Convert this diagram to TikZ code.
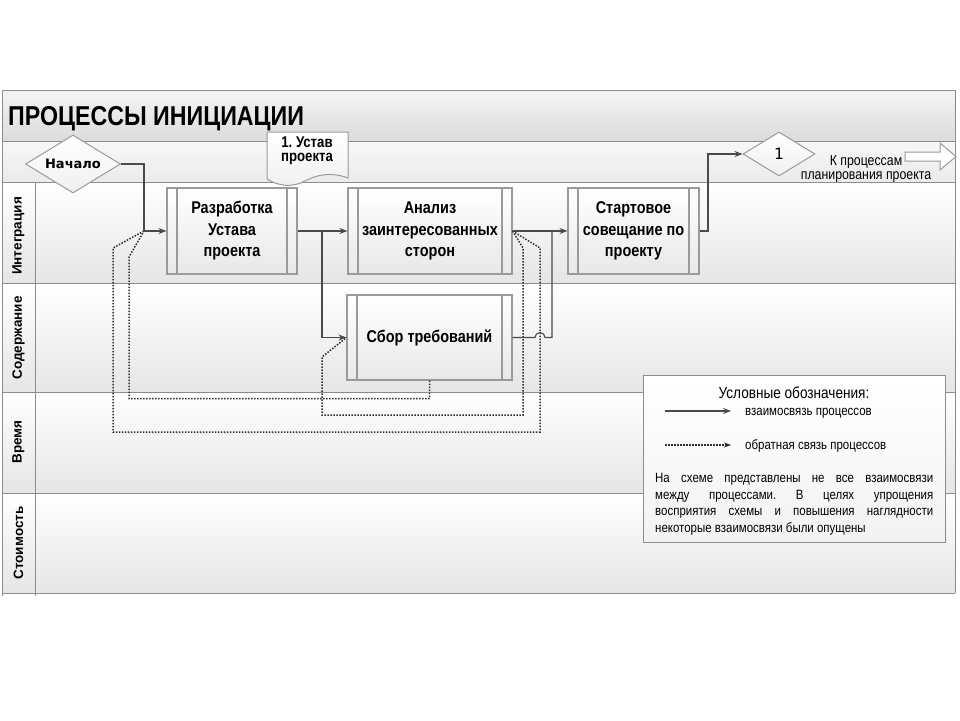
\documentclass[tikz,border=0pt]{standalone}
\usepackage{fontspec}
\setmainfont{Liberation Sans}
\newfontfamily\nar[FakeStretch=0.85]{Liberation Sans}
\newfontfamily\dvs{DejaVu Sans}
\usetikzlibrary{arrows.meta,shapes.geometric,calc}
\definecolor{lineC}{HTML}{4A4A4A}
\definecolor{dotC}{HTML}{303030}
\definecolor{frameC}{HTML}{8C8C8C}
\definecolor{boxC}{HTML}{9A9A9A}
\frenchspacing
\begin{document}
\begin{tikzpicture}[x=1pt,y=-1pt,
  frameline/.style={draw=frameC, line width=1pt},
  conn/.style={draw=lineC, line width=1.1pt},
  arr/.style={conn, -{Stealth[length=8pt,width=6pt]}},
  fb/.style={draw=dotC, line width=1.5pt, dash pattern=on 1.5pt off 1.5pt},
  fbarr/.style={fb, -{Stealth[length=7pt,width=5pt]}},
  proc/.style={draw=boxC, line width=1.1pt, top color=white, bottom color=black!9,
    minimum height=86pt, inner sep=2pt, align=center,
    font=\nar\bfseries\fontsize{17}{21.5}\selectfont,
    path picture={
      \draw[boxC, line width=1.1pt] ($(path picture bounding box.north west)+(10,0)$) -- ($(path picture bounding box.south west)+(10,0)$);
      \draw[boxC, line width=1.1pt] ($(path picture bounding box.north east)+(-10,0)$) -- ($(path picture bounding box.south east)+(-10,0)$);
    }},
  lanelabel/.style={rotate=90, inner sep=0pt, font=\bfseries\fontsize{13.5}{15}\selectfont},
  decision/.style={diamond, draw=boxC, line width=1pt, top color=white, bottom color=black!6, inner sep=0pt, aspect=1.64},
  legtext/.style={inner sep=0pt, font=\nar\fontsize{13.5}{16.7}\selectfont},
]
\useasboundingbox (0,0) rectangle (960,720);
\fill[white] (0,0) rectangle (960,720);

% backgrounds
\shade[top color=black!4, bottom color=black!14] (2,90) rectangle (955,141);
\shade[top color=black!3, bottom color=black!8] (2,141) rectangle (955,182);
\foreach \a/\b in {182/283,283/392,392/493,493/593}
  \shade[top color=white, bottom color=black!10] (2,\a) rectangle (955,\b);

% frame and lanes
\draw[frameline] (2,596) -- (2,90) -- (955,90) -- (955,593);
\foreach \y in {141,182,283,392,493,593} \draw[frameline] (2,\y) -- (955,\y);
\draw[frameline] (35,182) -- (35,596);

% title
\node[anchor=base west, inner sep=0pt, font=\nar\bfseries\fontsize{27.3}{30}\selectfont] (title) at (8,125) {ПРОЦЕССЫ ИНИЦИАЦИИ};

% lane labels
\node[lanelabel] (lint) at (18.5,236) {Интеграция};
\node[lanelabel] (lsod) at (18.5,338) {Содержание};
\node[lanelabel] (lvr) at (18.5,442) {Время};
\node[lanelabel] (lst) at (18.5,543) {Стоимость};

% process boxes
\node[proc, minimum width=130pt] (razr) at (232,231) {Разработка\\Устава\\проекта};
\node[proc, minimum width=164pt] (anal) at (430,231) {Анализ\\заинтересованных\\сторон};
\node[proc, minimum width=131pt] (start) at (633.5,231) {Стартовое\\совещание по\\проекту};
\node[proc, minimum width=165pt, minimum height=85pt] (sbor) at (429.5,337.5) {Сбор требований};

% document
\draw[draw=boxC, line width=1pt, top color=white, bottom color=black!6]
  (267,132) -- (348,132) -- (348,178) .. controls (332,172) and (318,174) .. (305,181)
  .. controls (292,188) and (278,186) .. (267,179) -- cycle;
\node[inner sep=0pt, align=center, font=\nar\bfseries\fontsize{15.5}{14}\selectfont] (ustav) at (307,151) {1. Устав\\проекта};

% decisions
\node[decision, minimum width=95pt, minimum height=58pt, font=\dvs\bfseries\fontsize{13}{15}\selectfont] (nach) at (73,164) {Начало};
\node[decision, minimum width=72pt, minimum height=44pt, font=\dvs\fontsize{15.5}{17}\selectfont] (d1) at (779,154) {1};

% exit arrow
\draw[draw=boxC, line width=1pt, fill=white] (905,152) -- (940,152) -- (940,143) -- (956,156.5) -- (940,170) -- (940,161) -- (905,161) -- cycle;
\node[inner sep=0pt, align=center, font=\nar\fontsize{14.5}{14}\selectfont] (kproc) at (866,169.5) {К процессам\\планирования проекта};

% junctions
\coordinate (j1) at (144,231);
\coordinate (j2) at (322,231);
\coordinate (j3) at (552,231);
\coordinate (jst) at (708,231);

% feedback (dotted)
\draw[fb] (anal.east) -- (523,248) -- (523,415) -- (322,415) -- (322,357) -- (sbor.west);
\draw[fb] (anal.east) -- (540,248) -- (540,432) -- (113,432) -- (113,248) -- (j1);
\draw[fb] (sbor.south) -- ++(0,18) -| (129,257) -- (j1);

% process links (solid)
\draw[arr] (nach.east) -| (j1) -- (razr.west);
\draw[arr] (razr.east) -- (anal.west);
\draw[arr] (j2) |- (sbor.west);
\draw[arr] (anal.east) -- (start.west);
\draw[conn] (sbor.east) -- (535,337.5) arc[start angle=180, end angle=0, radius=5pt] -| (j3);
\draw[arr] (start.east) -- (jst) |- (d1.west);

% legend
\node[draw=frameC, line width=1pt, top color=white, bottom color=black!5, minimum width=302pt, minimum height=167pt, anchor=north west, inner sep=0pt] (legend) at (643,375) {};
\node[anchor=base, inner sep=0pt, font=\nar\fontsize{16}{18}\selectfont] (lt) at (794,398) {Условные обозначения:};
\coordinate (l1a) at (665,411); \coordinate (l1b) at (731,411);
\coordinate (l2a) at (665,445); \coordinate (l2b) at (731,445);
\draw[arr] (l1a) -- (l1b);
\draw[fbarr] (l2a) -- (l2b);
\node[legtext, anchor=base west] (l1t) at (745,415) {взаимосвязь процессов};
\node[legtext, anchor=base west] (l2t) at (745,449) {обратная связь процессов};
\node[legtext, anchor=north west, align=left] (note) at (655,473) {%
\makebox[278pt][s]{На схеме представлены не все взаимосвязи}\\
\makebox[278pt][s]{между процессами. В целях упрощения}\\
\makebox[278pt][s]{восприятия схемы и повышения наглядности}\\
некоторые взаимосвязи были опущены};
\end{tikzpicture}
\end{document}
